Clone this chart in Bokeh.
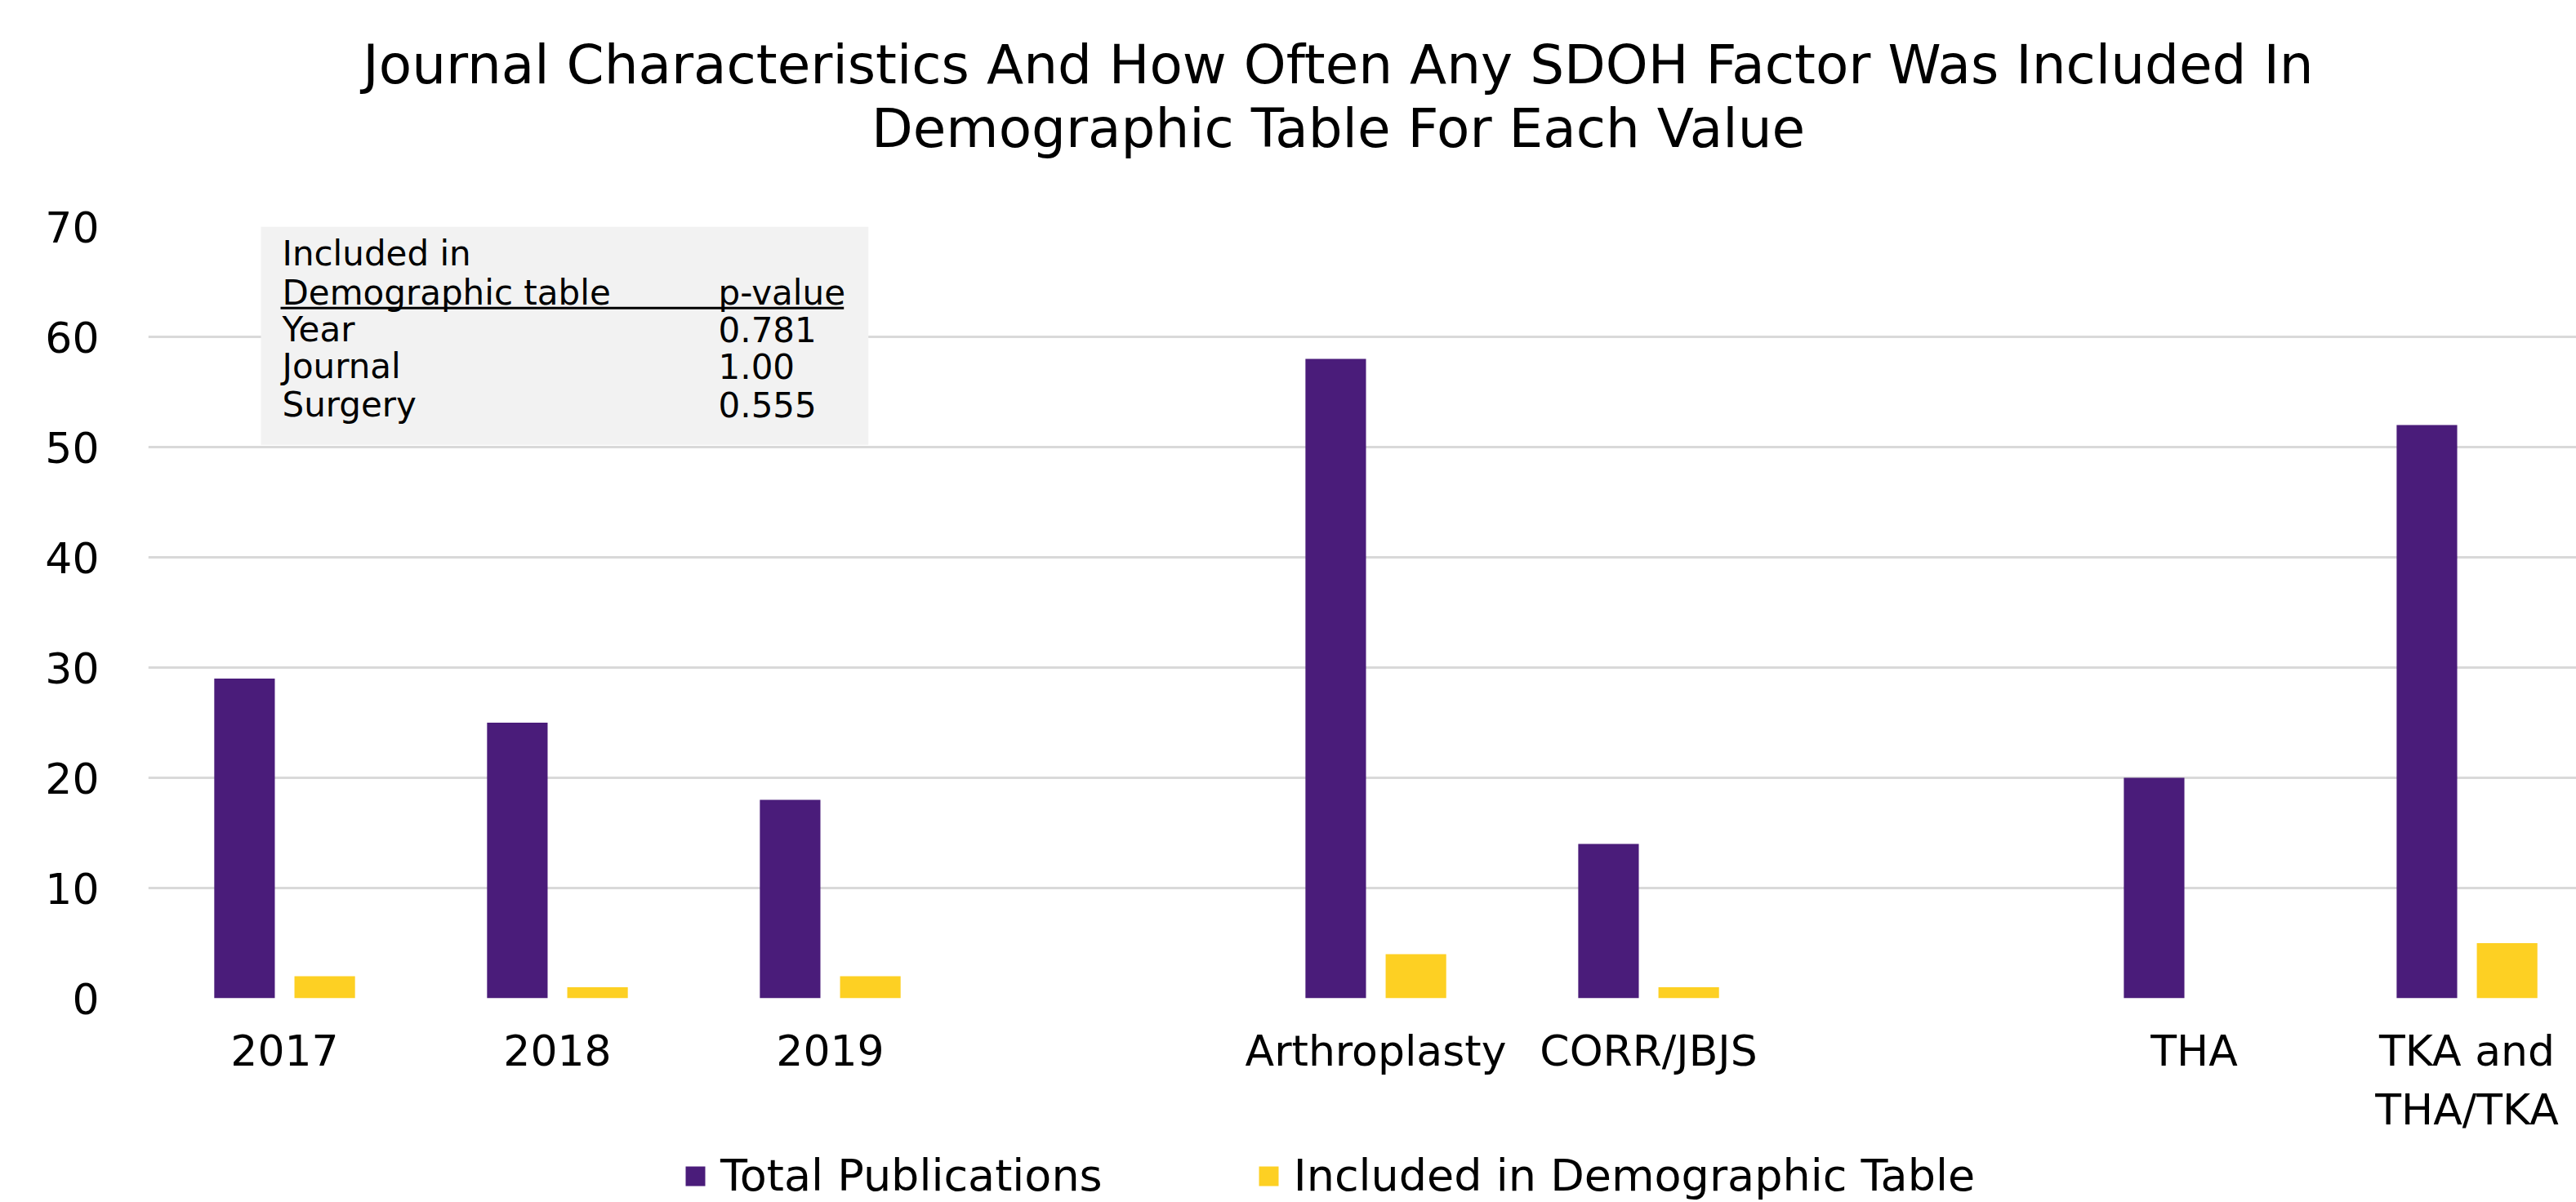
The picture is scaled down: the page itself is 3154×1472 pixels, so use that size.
from bokeh.plotting import figure
from bokeh.layouts import column
from bokeh.models import (ColumnDataSource, Range1d, FixedTicker, Legend, LegendItem,
                          BoxAnnotation, Label)
from bokeh.embed import file_html
from bokeh.resources import INLINE

categories = ["2017", "2018", "2019", "", "Arthroplasty", "CORR/JBJS", "", "THA", "TKA and\nTHA/TKA"]
total_publications = [29, 25, 18, 0, 58, 14, 0, 20, 52]
included_demographic = [2, 1, 2, 0, 4, 1, 0, 0, 5]
y_ticks = [0, 10, 20, 30, 40, 50, 60, 70]
legend_labels = ["Total Publications", "Included in Demographic Table"]
table_header = ["Included in", "Demographic table", "p-value"]
table_rows = ["Year", "Journal", "Surgery"]
table_pvalues = ["0.781", "1.00", "0.555"]

TITLE_LINES = ["Journal Characteristics And How Often Any SDOH Factor Was Included In",
               "Demographic Table For Each Value"]
FONT = "DejaVu Sans"
PURPLE = "#4A1C7A"
YELLOW = "#FDD023"
W = 3154
LEFT = 181  # frame left edge, shared by all stacked figures (column aligns frames)

pos = list(range(len(categories)))
src = ColumnDataSource(dict(
    x1=[p - 0.147 for p in pos],
    x2=[p + 0.147 for p in pos],
    total=total_publications,
    incl=included_demographic,
))

# ---- title strip (x in page pixels) ----
pt = figure(width=W, height=240, output_backend="svg", toolbar_location=None,
            x_range=Range1d(LEFT, W), y_range=Range1d(240, 0),
            x_axis_location=None, y_axis_location=None,
            min_border_left=LEFT, min_border_right=0, min_border_top=0, min_border_bottom=0)
pt.grid.visible = False
pt.outline_line_color = None
for line, yy in zip(TITLE_LINES, [79, 157]):
    pt.add_layout(Label(x=1638, y=yy, text=line, text_align="center", text_baseline="middle",
                        text_font=FONT, text_font_size="66px", text_color="#000000"))

# ---- main chart ----
p = figure(width=W, height=1160, output_backend="svg", toolbar_location=None,
           x_range=Range1d(-0.5, 8.401), y_range=Range1d(0, 70),
           min_border_left=LEFT, min_border_right=0, min_border_top=37, min_border_bottom=178)

r1 = p.vbar(x="x1", top="total", width=0.222, source=src, fill_color=PURPLE, line_color=None)
r2 = p.vbar(x="x2", top="incl", width=0.222, source=src, fill_color=YELLOW, line_color=None)

p.outline_line_color = None
p.xgrid.grid_line_color = None
p.ygrid.grid_line_color = "#D9D9D9"
p.ygrid.grid_line_width = 3
p.ygrid.ticker = FixedTicker(ticks=y_ticks)

p.yaxis.ticker = FixedTicker(ticks=y_ticks)
p.yaxis.axis_line_color = None
p.yaxis.major_tick_line_color = None
p.yaxis.minor_tick_line_color = None
p.yaxis.major_label_standoff = 54
p.yaxis.major_label_text_font = FONT
p.yaxis.major_label_text_font_size = "52px"
p.yaxis.major_label_text_color = "#000000"

p.xaxis.ticker = FixedTicker(ticks=pos)
p.xaxis.major_label_overrides = {i: c for i, c in enumerate(categories)}
p.xaxis.axis_line_color = None
p.xaxis.major_tick_line_color = None
p.xaxis.minor_tick_line_color = None
p.xaxis.major_label_standoff = 28
p.xaxis.major_label_text_font = FONT
p.xaxis.major_label_text_font_size = "52px"
p.xaxis.major_label_text_line_height = 1.2
p.xaxis.major_label_text_color = "#000000"

# inset statistics table
p.add_layout(BoxAnnotation(left=-0.087, right=2.14, bottom=50.2, top=70,
                           fill_color="#F2F2F2", fill_alpha=1, line_color=None))
p.add_layout(BoxAnnotation(left=-0.015, right=2.05, bottom=62.5, top=62.72,
                           fill_color="#000000", fill_alpha=1, line_color=None))
tx_left = -0.009
tx_right = 1.59
rows_y = [60.7, 57.3, 53.85]
for txt, yy in [(table_header[0], 67.56), (table_header[1], 64.0)]:
    p.add_layout(Label(x=tx_left, y=yy, text=txt, text_baseline="middle", text_font=FONT,
                       text_font_size="42px", text_color="#000000"))
p.add_layout(Label(x=tx_right, y=64.0, text=table_header[2], text_baseline="middle", text_font=FONT,
                   text_font_size="42px", text_color="#000000"))
for name, pv, yy in zip(table_rows, table_pvalues, rows_y):
    p.add_layout(Label(x=tx_left, y=yy, text=name, text_baseline="middle", text_font=FONT,
                       text_font_size="42px", text_color="#000000"))
    p.add_layout(Label(x=tx_right, y=yy, text=pv, text_baseline="middle", text_font=FONT,
                       text_font_size="42px", text_color="#000000"))

# ---- legend strip ----
pl = figure(width=W, height=72, output_backend="svg", toolbar_location=None,
            x_range=Range1d(0, 1), y_range=Range1d(1000, 1001),
            x_axis_location=None, y_axis_location=None,
            min_border_left=LEFT, min_border_right=0, min_border_top=0, min_border_bottom=0)
pl.grid.visible = False
pl.outline_line_color = None
# same series as zero-height bars outside the strip's view: only their legend swatches show
lg1 = pl.vbar(x="x1", bottom="total", top="total", width=0.222, source=src,
              fill_color=PURPLE, line_color=None)
lg2 = pl.vbar(x="x2", bottom="incl", top="incl", width=0.222, source=src,
              fill_color=YELLOW, line_color=None)
legend = Legend(items=[LegendItem(label=legend_labels[0], renderers=[lg1]),
                       LegendItem(label=legend_labels[1], renderers=[lg2])],
                orientation="horizontal", location=(836 - LEFT, 1),
                glyph_width=30, glyph_height=30, spacing=188, label_standoff=16,
                label_text_font=FONT, label_text_font_size="54px", label_text_color="#000000",
                border_line_color=None, background_fill_alpha=0, padding=0, margin=0)
pl.add_layout(legend)

open("out.html", "w").write(file_html(column(pt, p, pl), INLINE))
